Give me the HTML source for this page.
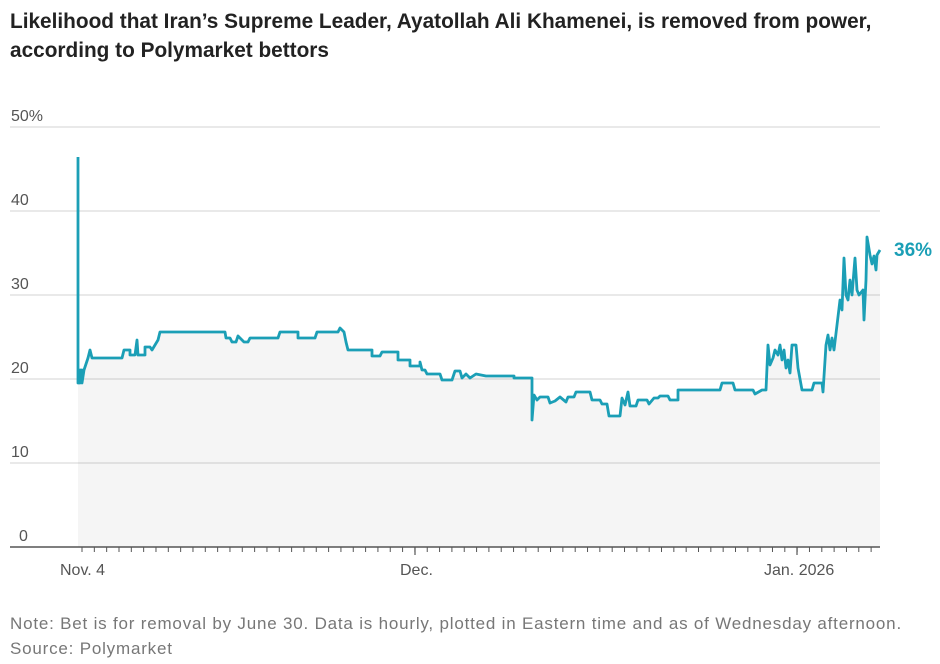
<!DOCTYPE html>
<html><head><meta charset="utf-8"><style>
body{margin:0;background:#fff;width:940px;height:664px;overflow:hidden;font-family:"Liberation Sans",sans-serif}
.t{position:absolute;left:10px;top:7px;font-size:20.8px;font-weight:bold;color:#222;line-height:29px}
.n{position:absolute;left:10px;top:611px;font-size:17px;letter-spacing:0.8px;color:#777;line-height:25px}
</style></head><body>
<div class="t">Likelihood that Iran’s Supreme Leader, Ayatollah Ali Khamenei, is removed from power,<br>according to Polymarket bettors</div>
<svg width="940" height="664" style="position:absolute;left:0;top:0" font-family="Liberation Sans, sans-serif">
<g stroke="#e2e2e2" stroke-width="1.5">
<line x1="10" y1="127" x2="880" y2="127"/><line x1="10" y1="211" x2="880" y2="211"/>
<line x1="10" y1="295" x2="880" y2="295"/><line x1="10" y1="379" x2="880" y2="379"/>
<line x1="10" y1="463" x2="880" y2="463"/></g>
<g font-size="16" fill="#555">
<text x="11" y="121">50%</text><text x="11" y="205">40</text><text x="11" y="289">30</text>
<text x="11" y="373">20</text><text x="11" y="457">10</text><text x="19" y="541">0</text>
<text x="60" y="575">Nov. 4</text><text x="400" y="575">Dec.</text><text x="764" y="575">Jan. 2026</text></g>
<path id="p" d="M78,157 L78,383 80,383 80,370 82,370 82,383 84,370 88,358 90,350 92,358 122,358 124,350 130,350 130,355 135,355 137,340 138,355 145,355 145,347 150,347 152,350 155,345 158,340 160,332 225,332 226,338 230,338 232,342 236,342 238,336 244,342 248,342 250,338 278,338 280,332 298,332 298,338 315,338 317,332 338,332 340,328 344,332 346,342 348,350 372,350 372,356 380,356 382,352 398,352 398,360 410,360 410,366 420,366 420,362 422,370 425,370 427,374 440,374 442,380 452,380 455,371 460,371 462,378 466,374 470,378 476,374 486,376 514,376 514,378 532,378 532,420 534,395 537,400 540,397 548,397 550,403 555,401 560,397 566,402 568,397 574,397 576,392 590,392 592,400 600,400 602,404 607,404 609,416 620,416 622,398 625,405 628,392 630,406 636,406 638,400 647,400 649,404 654,398 658,398 660,396 668,396 670,400 678,400 678,390 720,390 722,383 733,383 735,390 753,390 755,394 762,390 766,390 768,345 770,365 773,358 775,350 778,355 780,345 782,360 784,350 786,368 788,360 790,373 792,345 796,345 798,368 802,390 812,390 814,383 822,383 823,392 826,345 828,335 830,350 832,338 834,350 837,325 840,300 842,310 844,258 846,295 848,300 850,280 852,295 855,258 857,290 859,295 863,290 864,320 866,280 867,237 870,255 872,264 874,256 876,270 877,255 880,250" fill="none"/>
<path d="M78,157 L78,383 80,383 80,370 82,370 82,383 84,370 88,358 90,350 92,358 122,358 124,350 130,350 130,355 135,355 137,340 138,355 145,355 145,347 150,347 152,350 155,345 158,340 160,332 225,332 226,338 230,338 232,342 236,342 238,336 244,342 248,342 250,338 278,338 280,332 298,332 298,338 315,338 317,332 338,332 340,328 344,332 346,342 348,350 372,350 372,356 380,356 382,352 398,352 398,360 410,360 410,366 420,366 420,362 422,370 425,370 427,374 440,374 442,380 452,380 455,371 460,371 462,378 466,374 470,378 476,374 486,376 514,376 514,378 532,378 532,420 534,395 537,400 540,397 548,397 550,403 555,401 560,397 566,402 568,397 574,397 576,392 590,392 592,400 600,400 602,404 607,404 609,416 620,416 622,398 625,405 628,392 630,406 636,406 638,400 647,400 649,404 654,398 658,398 660,396 668,396 670,400 678,400 678,390 720,390 722,383 733,383 735,390 753,390 755,394 762,390 766,390 768,345 770,365 773,358 775,350 778,355 780,345 782,360 784,350 786,368 788,360 790,373 792,345 796,345 798,368 802,390 812,390 814,383 822,383 823,392 826,345 828,335 830,350 832,338 834,350 837,325 840,300 842,310 844,258 846,295 848,300 850,280 852,295 855,258 857,290 859,295 863,290 864,320 866,280 867,237 870,255 872,264 874,256 876,270 877,255 880,250 L880,547 L78,547 Z" fill="#000" fill-opacity="0.04"/>
<use href="#p" stroke="#1b9fb6" stroke-width="2.8" stroke-linejoin="round"/>
<line x1="10" y1="547" x2="880" y2="547" stroke="#555" stroke-width="1.5"/>
<g stroke="#555" stroke-width="1" id="ticks"></g>
<line x1="415" y1="547" x2="415" y2="555" stroke="#555" stroke-width="1.2"/>
<line x1="797" y1="547" x2="797" y2="555" stroke="#555" stroke-width="1.2"/>
<text x="894" y="256" font-size="19" font-weight="bold" fill="#1b9fb6">36%</text>
</svg>
<script>
var g=document.getElementById('ticks'),s='';
for(var x=82;x<=880;x+=12.33){s+='<line x1="'+x+'" y1="547" x2="'+x+'" y2="552"/>';}
g.innerHTML=s;
</script>
<div class="n">Note: Bet is for removal by June 30. Data is hourly, plotted in Eastern time and as of Wednesday afternoon.<br>Source: Polymarket</div>
</body></html>
